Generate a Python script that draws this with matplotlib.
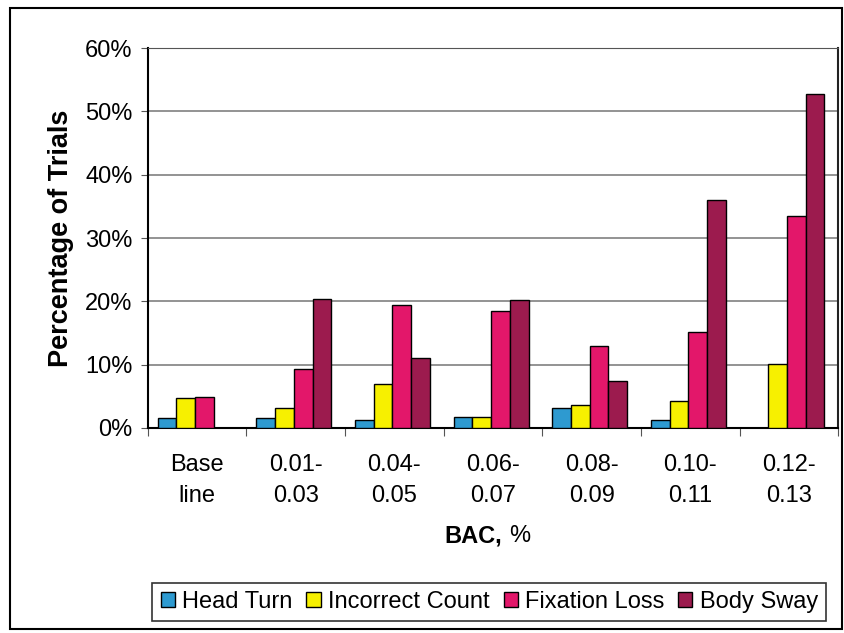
import matplotlib.pyplot as plt
from matplotlib.patches import Rectangle
import numpy as np

plt.rcParams['font.family'] = ['Liberation Sans', 'DejaVu Sans']

# BAC groups and percentage of trials
groups = ["Base\nline", "0.01-\n0.03", "0.04-\n0.05", "0.06-\n0.07",
          "0.08-\n0.09", "0.10-\n0.11", "0.12-\n0.13"]
head_turn = [1.6, 1.6, 1.3, 1.7, 3.2, 1.3, 0.0]
incorrect_count = [4.7, 3.2, 7.0, 1.7, 3.6, 4.3, 10.1]
fixation_loss = [4.9, 9.3, 19.4, 18.5, 13.0, 15.2, 33.5]
body_sway = [0.0, 20.4, 11.0, 20.2, 7.4, 36.0, 52.8]
series_names = ["Head Turn", "Incorrect Count", "Fixation Loss", "Body Sway"]
yticks = [0, 10, 20, 30, 40, 50, 60]

colors = ["#2e9ad0", "#f7f000", "#e3176a", "#9c1b4e"]

fig = plt.figure(figsize=(8.45, 6.33), dpi=100)
ax = fig.add_axes([0.175, 0.324, 0.817, 0.600])

x = np.arange(len(groups))
w = 0.19
series = [head_turn, incorrect_count, fixation_loss, body_sway]
for i, (vals, name, c) in enumerate(zip(series, series_names, colors)):
    ax.bar(x + (i - 1.5) * w - 0.02, vals, width=w, color=c,
           edgecolor="black", linewidth=1.0, label=name, zorder=3)

ax.set_xlim(-0.5, len(groups) - 0.5)
ax.set_ylim(0, 60)
ax.set_yticks(yticks)
ax.set_yticklabels([f"{v}%" for v in yticks], fontsize=17)
ax.yaxis.grid(True, color="#8a8a8a", linewidth=1.3, zorder=0)

# category boundaries as ticks, labels at centres
ax.set_xticks(np.arange(len(groups) + 1) - 0.5)
ax.set_xticklabels([])
ax.set_xticks(x, minor=True)
ax.set_xticklabels(groups, minor=True, fontsize=17, linespacing=1.5)
ax.tick_params(axis="x", which="major", length=6, color="#555555")
ax.tick_params(axis="x", which="minor", length=0, pad=19)
ax.tick_params(axis="y", length=5, color="#555555", pad=6)

for side in ["left", "bottom"]:
    ax.spines[side].set_linewidth(1.5)
    ax.spines[side].set_color("black")
ax.spines["right"].set_color("#222222")
ax.spines["right"].set_linewidth(1.5)
ax.spines["top"].set_color("#555555")

ax.set_ylabel("Percentage of Trials", fontsize=19.5, fontweight="bold", labelpad=8)

# x axis title: "BAC," bold, "%" regular
fig.text(0.594, 1 - 536 / 633, "BAC,", fontsize=17, fontweight="bold",
         ha="right", va="center")
fig.text(0.603, 1 - 536 / 633, "%", fontsize=17, ha="left", va="center")

leg = fig.legend(loc="center", bbox_to_anchor=(0.579, 1 - 602 / 633), ncol=4,
                 fontsize=17, frameon=True, fancybox=False, edgecolor="black",
                 handlelength=0.6, handleheight=0.6, handletextpad=0.3,
                 columnspacing=0.6, borderpad=0.35, borderaxespad=0)
leg.get_frame().set_linewidth(1.2)

# outer chart frame
fig.patches.append(Rectangle((10 / 845, 4 / 633), 832 / 845, 621 / 633,
                             transform=fig.transFigure, fill=False,
                             edgecolor="black", linewidth=1.5))

fig.savefig("out.png", dpi=100)
